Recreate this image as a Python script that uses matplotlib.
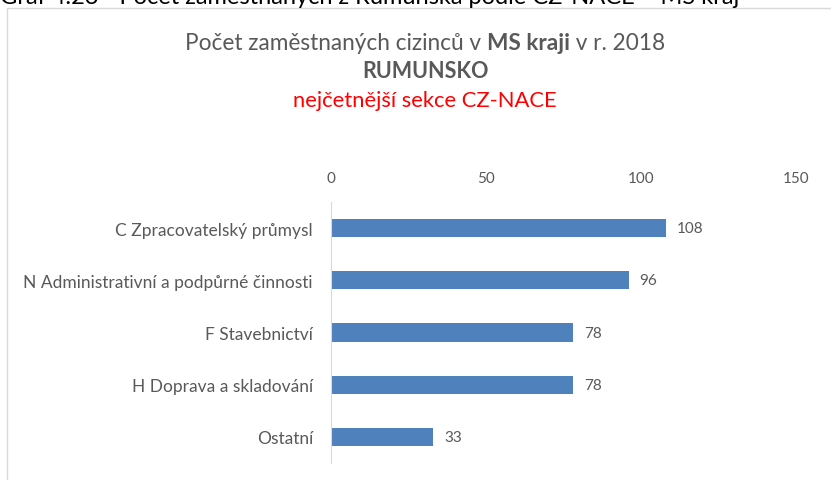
import matplotlib
matplotlib.use("Agg")
import matplotlib.pyplot as plt
from matplotlib.patches import Rectangle

categories = [
    "C Zpracovatelský průmysl",
    "N Administrativní a podpůrné činnosti",
    "F Stavebnictví",
    "H Doprava a skladování",
    "Ostatní",
]
values = [108, 96, 78, 78, 33]
xticks = [0, 50, 100, 150]

FONT = ["Lato", "DejaVu Sans"]
GREY = "#595959"
BLUE = "#4F81BD"

W, H = 831, 481
fig = plt.figure(figsize=(W / 100, H / 100), dpi=100)
plt.rcParams["font.family"] = FONT

# caption above the chart area (cut at the top edge)
fig.text(0 / W, 1 + 3 / H, "Graf 4.23 - Počet zaměstnaných z Rumunska podle CZ-NACE – MS kraj",
         fontsize=17, color="#000000", ha="left", va="center")

# chart frame
fig.patches.append(Rectangle((7 / W, -0.05), 1.0, 1 - 9 / H + 0.05, transform=fig.transFigure,
                             fill=False, edgecolor="#D9D9D9", linewidth=1))

ax = fig.add_axes([331 / W, 1 - 464 / H, (796 - 331) / W, (464 - 203) / H])
y = list(range(len(categories)))
ax.barh(y, values, height=0.35, color=BLUE)
ax.set_ylim(len(categories) - 0.5, -0.5)
ax.set_xlim(0, 150)
ax.set_xticks(xticks)
ax.xaxis.tick_top()
ax.tick_params(axis="x", length=0, pad=12, labelsize=11, labelcolor=GREY)
ax.set_yticks(y)
ax.set_yticklabels(categories)
ax.tick_params(axis="y", length=0, pad=13, labelsize=12.5, labelcolor=GREY)
for s in ["top", "right", "bottom"]:
    ax.spines[s].set_visible(False)
ax.spines["left"].set_color("#D9D9D9")
for yi, v in zip(y, values):
    ax.annotate(str(v), (v, yi), xytext=(8, 0), textcoords="offset points",
                ha="left", va="center", fontsize=11, color=GREY)

# title lines, with bold segments
fig.canvas.draw()
renderer = fig.canvas.get_renderer()

def centered_line(parts, ypix, size):
    texts = []
    for s, weight, color in parts:
        t = fig.text(0, 1 - ypix / H, s, fontsize=size, fontweight=weight, color=color,
                     ha="left", va="center")
        texts.append(t)
    widths = [t.get_window_extent(renderer).width for t in texts]
    total = sum(widths)
    x = (425 - total / 2)
    for t, w in zip(texts, widths):
        t.set_x(x / W)
        x += w

centered_line([("Počet zaměstnaných cizinců v ", "normal", GREY),
               ("MS kraji", "bold", GREY),
               (" v r. 2018", "normal", GREY)], 43, 16.3)
centered_line([("RUMUNSKO", "bold", GREY)], 72, 15.5)
centered_line([("nejčetnější sekce CZ-NACE", "normal", "#FF0000")], 101, 15.8)

fig.savefig("out.png", dpi=100)
